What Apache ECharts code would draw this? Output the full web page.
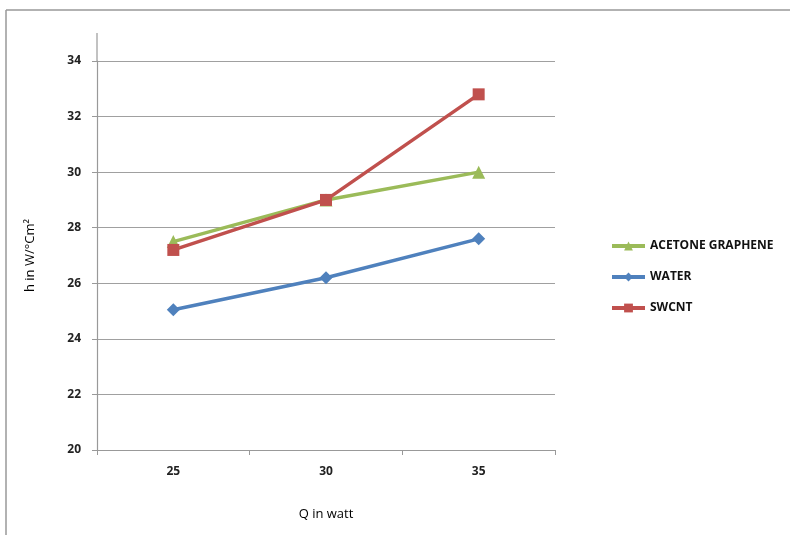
<!DOCTYPE html>
<html>
<head>
<meta charset="utf-8">
<script src="https://cdn.jsdelivr.net/npm/echarts@6/dist/echarts.min.js"></script>
<style>html,body{margin:0;padding:0;background:#fff}#c{width:790px;height:535px}</style>
</head>
<body>
<div id="c"></div>
<script>
const categories = ['25', '30', '35'];
const acetoneGraphene = [27.5, 29.0, 30.0];
const water = [25.05, 26.2, 27.6];
const swcnt = [27.2, 29.0, 32.8];
const yMin = 20, yMax = 34, yInterval = 2;

const chart = echarts.init(document.getElementById('c'));
const font = 'Open Sans';
chart.setOption({
  backgroundColor: '#fff',
  animation: false,
  textStyle: { fontFamily: font },
  grid: { left: 97, right: 235, top: 61, bottom: 85 },
  graphic: [
    { type: 'line', shape: { x1: 6, y1: 10, x2: 790, y2: 10 }, style: { stroke: '#999', lineWidth: 1.5 } },
    { type: 'line', shape: { x1: 6, y1: 10, x2: 6, y2: 535 }, style: { stroke: '#999', lineWidth: 1.5 } },
    { type: 'line', shape: { x1: 97, y1: 33, x2: 97, y2: 61 }, style: { stroke: '#999', lineWidth: 1.2 } }
  ],
  legend: {
    orient: 'vertical', left: 605, top: 235,
    itemWidth: 33, itemHeight: 11, itemGap: 19,
    lineStyle: { width: 4 },
    textStyle: { fontFamily: font, fontSize: 12, fontWeight: 'bold', color: '#111' },
    data: ['ACETONE GRAPHENE', 'WATER', 'SWCNT']
  },
  xAxis: {
    type: 'category', data: categories, boundaryGap: true,
    name: 'Q in watt', nameLocation: 'middle', nameGap: 58,
    nameTextStyle: { fontFamily: font, fontSize: 13, color: '#000' },
    axisLine: { lineStyle: { color: '#999', width: 1.2 } },
    axisTick: { show: true, length: 5, alignWithLabel: false, lineStyle: { color: '#999' } },
    axisLabel: { margin: 16, fontFamily: font, fontSize: 12, fontWeight: 'bold', color: '#222' },
    splitLine: { show: false }
  },
  yAxis: {
    type: 'value', min: yMin, max: yMax, interval: yInterval,
    name: 'h in W/°Cm²', nameLocation: 'middle', nameGap: 60,
    nameTextStyle: { fontFamily: font, fontSize: 13, color: '#000' },
    axisLine: { show: true, lineStyle: { color: '#999', width: 1.2 } },
    axisTick: { show: true, length: 5, lineStyle: { color: '#999' } },
    axisLabel: { margin: 16, fontFamily: font, fontSize: 12, fontWeight: 'bold', color: '#222' },
    splitLine: { show: true, lineStyle: { color: '#a0a0a0', width: 1.2 } }
  },
  series: [
    { name: 'ACETONE GRAPHENE', type: 'line', data: acetoneGraphene, symbol: 'triangle', symbolSize: 13,
      itemStyle: { color: '#9BBB59' }, lineStyle: { color: '#9BBB59', width: 3.5 } },
    { name: 'WATER', type: 'line', data: water, symbol: 'diamond', symbolSize: 13,
      itemStyle: { color: '#4F81BD' }, lineStyle: { color: '#4F81BD', width: 3.5 } },
    { name: 'SWCNT', type: 'line', data: swcnt, symbol: 'rect', symbolSize: 12,
      itemStyle: { color: '#C0504D' }, lineStyle: { color: '#C0504D', width: 3.5 } }
  ]
});
</script>
</body>
</html>
